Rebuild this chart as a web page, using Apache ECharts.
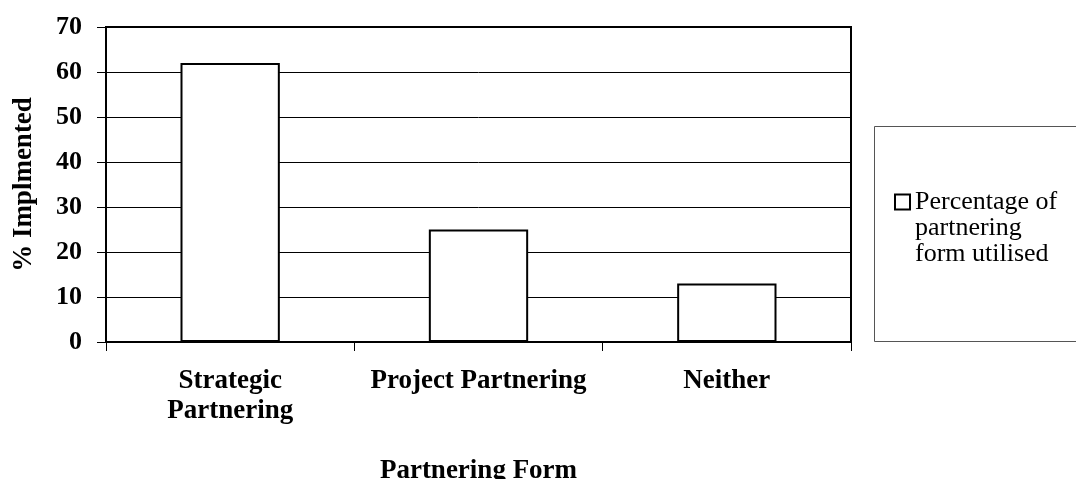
<!DOCTYPE html>
<html>
<head>
<meta charset="utf-8">
<script src="https://cdn.jsdelivr.net/npm/echarts@6/dist/echarts.min.js"></script>
<style>
html,body{margin:0;padding:0;background:#fff;}
#chart{width:1076px;height:479px;}
</style>
</head>
<body>
<div id="chart"></div>
<script>
var categories = ['Strategic\nPartnering', 'Project Partnering', 'Neither'];
var seriesName = 'Percentage of partnering form utilised';
var legendLines = ['Percentage of', 'partnering', 'form utilised'];
var values = [62, 25, 13];
var yTicks = [0, 10, 20, 30, 40, 50, 60, 70];

var myChart = echarts.init(document.getElementById('chart'));
var font = 'Liberation Serif';
var option = {
    animation: false,
    backgroundColor: '#fff',
    grid: { left: 106, top: 27, width: 745, height: 315, outerBoundsMode: 'none',
        show: true, borderColor: '#000', borderWidth: 2, backgroundColor: 'transparent' },
    legend: {
        left: 889, top: 132,
        itemWidth: 15, itemHeight: 15, itemGap: 0,
        icon: 'rect',
        data: [seriesName],
        // two blank lines on top keep the icon level with the first line
        formatter: function(n){ return '\n\n' + legendLines.join('\n'); },
        itemStyle: { borderWidth: 2 },
        textStyle: { fontFamily: font, fontSize: 26, color: '#000', lineHeight: 26 }
    },
    graphic: [{
        type: 'rect',
        shape: { x: 874.5, y: 126.5, width: 220, height: 215 },
        style: { fill: 'none', stroke: '#555', lineWidth: 1 },
        z: 0
    }],
    xAxis: {
        type: 'category',
        data: categories,
        name: 'Partnering Form',
        nameLocation: 'middle',
        nameGap: 116,
        nameTextStyle: { fontFamily: font, fontSize: 27, fontWeight: 'bold', color: '#000' },
        axisLine: { lineStyle: { color: '#000', width: 2 } },
        axisTick: { show: true, interval: 0, length: 9, lineStyle: { color: '#000', width: 1 } },
        axisLabel: { interval: 0, hideOverlap: false, margin: 24, fontFamily: font, fontSize: 27,
            fontWeight: 'bold', color: '#000', lineHeight: 30 }
    },
    yAxis: {
        type: 'value',
        min: 0, max: 70, interval: 10,
        name: '% Implmented',
        nameLocation: 'middle',
        nameGap: 68,
        nameTextStyle: { fontFamily: font, fontSize: 27, fontWeight: 'bold', color: '#000' },
        axisLine: { show: true, lineStyle: { color: '#000', width: 2 } },
        axisTick: { show: true, length: 9, lineStyle: { color: '#000', width: 1 } },
        axisLabel: { margin: 24, fontFamily: font, fontSize: 26, fontWeight: 'bold', color: '#000',
            formatter: function(v){ return yTicks.indexOf(v) >= 0 ? String(v) : ''; } },
        splitLine: { show: true, lineStyle: { color: '#000', width: 1 } }
    },
    series: [{
        name: seriesName,
        type: 'bar',
        data: values,
        barWidth: '40%',
        itemStyle: { color: '#fff', borderColor: '#000', borderWidth: 2 }
    }]
};
myChart.setOption(option);
</script>
</body>
</html>
